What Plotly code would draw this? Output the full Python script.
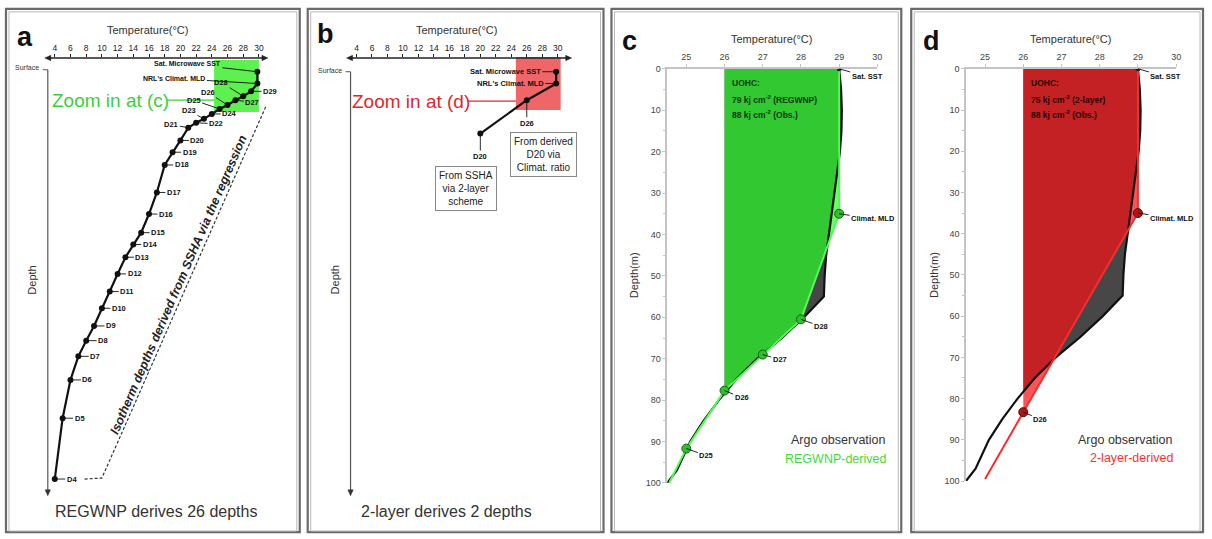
import plotly.graph_objects as go

W, H = 1212, 539
NARROW = "Liberation Sans Narrow, Arial Narrow, Liberation Sans, Arial, sans-serif"
SANS = "Liberation Sans, Arial, sans-serif"

# ---------------- data ----------------
# (a) REGWNP: depths of the 4..29 degC isotherms (schematic depth units below surface)
isotherm_temps_a = [4, 5, 6, 7, 8, 9, 10, 11, 12, 13, 14, 15, 16,
                    17, 18, 19, 20, 21, 22, 23, 24, 25, 26, 27, 28, 29]
isotherm_depths_a = [417, 355, 316, 292, 276, 261, 243, 226, 208, 191, 178, 166, 147,
                     125, 97, 84, 72, 59, 54, 50, 45, 40, 36, 31, 27, 22]
sst_temp_ab = 29.8
sst_depth_ab = 2
mld_temp_ab = 29.8
mld_depth_ab = 14
temp_ticks_ab = [4, 6, 8, 10, 12, 14, 16, 18, 20, 22, 24, 26, 28, 30]

# regression path (dashed) linking the deepest isotherm to the surface layer
regression_temps = [7.8, 10.0, 30.9]
regression_depths = [417, 416, 37]

# (b) 2-layer scheme: two derived isotherm depths
isotherm_temps_b = [26, 20]
isotherm_depths_b = [31, 65]

# (c, d) Argo observed profile (m)
argo_depth = [0, 5, 10, 15, 20, 25, 30, 35, 40, 45, 50, 55, 60, 65, 70, 75,
              80, 85, 90, 92, 95, 97, 100]
argo_temp = [29.0, 29.05, 29.07, 29.06, 29.02, 28.95, 28.88, 28.8, 28.72, 28.66,
             28.62, 28.6, 28.08, 27.5, 26.85, 26.3, 25.85, 25.45, 25.1, 25.0,
             24.85, 24.75, 24.5]

# (c) REGWNP-derived profile
regwnp_temp = [29.0, 29.0, 28.0, 27.0, 26.0, 25.0, 24.55]
regwnp_depth = [0, 35, 60.5, 69, 77.7, 91.7, 100]
regwnp_labels = ["Sat. SST", "Climat. MLD", "D28", "D27", "D26", "D25", ""]

# (d) 2-layer-derived profile
twolayer_temp = [29.0, 29.0, 26.0, 25.0]
twolayer_depth = [0, 35, 83.3, 99.5]
twolayer_labels = ["Sat. SST", "Climat. MLD", "D26", ""]

uohc_regwnp = 79
uohc_twolayer = 75
uohc_obs = 88
temp_ticks_cd = [25, 26, 27, 28, 29, 30]
ohc_threshold = 26.0


# ---------------- helpers ----------------
def px(x):
    return x / W


def py(y):
    return 1 - y / H


def warm_region(temps, depths, t0):
    """Polygon enclosed by a profile and the t0 isotherm (water warmer than t0)."""
    xs, ys = [t0], [depths[0]]
    for i, (t, d) in enumerate(zip(temps, depths)):
        if t >= t0:
            xs.append(t)
            ys.append(d)
        if i + 1 < len(temps):
            t2, d2 = temps[i + 1], depths[i + 1]
            if (t - t0) * (t2 - t0) < 0:
                f = (t0 - t) / (t2 - t)
                xs.append(t0)
                ys.append(d + f * (d2 - d))
                break
    xs.append(t0)
    ys.append(depths[0])
    return xs, ys


# schematic panels (a, b): pixel <-> temperature mapping of the top axis
def temp_range(t_left_px, scale, dom):
    return [4 + (dom[0] - t_left_px) / scale, 4 + (dom[1] - t_left_px) / scale]


DOM_A = (40, 280)
DOM_B = (340, 590)
RANGE_A = temp_range(55, 7.885, DOM_A)
RANGE_B = temp_range(358, 7.77, DOM_B)

fig = go.Figure()

# ---------------- panel a ----------------
fig.add_trace(go.Scatter(
    x=regression_temps, y=regression_depths, mode="lines",
    line=dict(color="#333", width=1.2, dash="3px,2px"),
    xaxis="x", yaxis="y", hoverinfo="skip"))

prof_a_t = [sst_temp_ab, mld_temp_ab] + isotherm_temps_a[::-1]
prof_a_d = [sst_depth_ab, mld_depth_ab] + isotherm_depths_a[::-1]
fig.add_trace(go.Scatter(
    x=prof_a_t, y=prof_a_d, mode="lines+markers",
    line=dict(color="#111", width=2.2),
    marker=dict(color="#111", size=6),
    xaxis="x", yaxis="y"))

# ---------------- panel b ----------------
prof_b_t = [sst_temp_ab, mld_temp_ab] + isotherm_temps_b
prof_b_d = [sst_depth_ab, mld_depth_ab] + isotherm_depths_b
fig.add_trace(go.Scatter(
    x=prof_b_t, y=prof_b_d, mode="lines+markers",
    line=dict(color="#111", width=2.2),
    marker=dict(color="#111", size=6),
    xaxis="x2", yaxis="y2"))

# ---------------- panels c, d ----------------
ax_fx, ax_fy = warm_region(argo_temp, argo_depth, ohc_threshold)


def zoom_panel(xa, ya, prof_t, prof_d, fill, line_col, mk_col, mk_edge):
    fig.add_trace(go.Scatter(x=ax_fx, y=ax_fy, mode="lines", fill="toself",
                             fillcolor="#474747", line=dict(width=0),
                             xaxis=xa, yaxis=ya, hoverinfo="skip"))
    fx, fy = warm_region(prof_t, prof_d, ohc_threshold)
    fig.add_trace(go.Scatter(x=fx, y=fy, mode="lines", fill="toself",
                             fillcolor=fill, line=dict(width=0),
                             xaxis=xa, yaxis=ya, hoverinfo="skip"))
    fig.add_trace(go.Scatter(x=argo_temp, y=argo_depth, mode="lines",
                             line=dict(color="#111", width=2.2),
                             xaxis=xa, yaxis=ya))
    fig.add_trace(go.Scatter(x=prof_t, y=prof_d, mode="lines",
                             line=dict(color=line_col, width=2),
                             xaxis=xa, yaxis=ya))
    fig.add_trace(go.Scatter(
        x=prof_t[1:-1], y=prof_d[1:-1], mode="markers",
        marker=dict(color=mk_col, size=9, line=dict(color=mk_edge, width=1)),
        xaxis=xa, yaxis=ya))
    fig.add_trace(go.Scatter(
        x=prof_t[:1], y=prof_d[:1], mode="markers",
        marker=dict(color="#222", size=5), xaxis=xa, yaxis=ya))


zoom_panel("x3", "y3", regwnp_temp, regwnp_depth, "rgba(40,255,40,0.7)",
           "#4dff4d", "#2fbf2f", "#1d5c1d")
zoom_panel("x4", "y4", twolayer_temp, twolayer_depth, "rgba(245,20,25,0.72)",
           "#ff2a2a", "#b01414", "#5a0505")

# ---------------- axes ----------------
sch_x = dict(side="top", showline=False, showgrid=False, zeroline=False,
             tickvals=temp_ticks_ab, ticks="outside", ticklen=3, tickcolor="#222",
             tickfont=dict(size=8.5, family=NARROW, color="#222"))
sch_y = dict(visible=False, range=[434, -12], domain=[py(500), py(54)])

zm_x = dict(side="top", showline=True, linecolor="#c4c4c4", linewidth=1.5,
            showgrid=False, zeroline=False, range=[24.5, 30], tickvals=temp_ticks_cd,
            ticks="outside", ticklen=3, tickcolor="#c4c4c4",
            tickfont=dict(size=9, family=NARROW, color="#444"))
zm_y = dict(showline=True, linecolor="#c4c4c4", linewidth=1.5, showgrid=False,
            zeroline=False, range=[100, 0], tick0=0, dtick=10, ticks="outside",
            ticklen=3, tickcolor="#c4c4c4",
            minor=dict(ticks="outside", ticklen=2, dtick=5, tickcolor="#c4c4c4"),
            tickfont=dict(size=9, family=NARROW, color="#444"))

fig.update_layout(
    xaxis=dict(**sch_x, domain=[px(DOM_A[0]), px(DOM_A[1])], range=RANGE_A, anchor="y"),
    yaxis=dict(**sch_y, anchor="x"),
    xaxis2=dict(**sch_x, domain=[px(DOM_B[0]), px(DOM_B[1])], range=RANGE_B, anchor="y2"),
    yaxis2=dict(**sch_y, anchor="x2"),
    xaxis3=dict(**zm_x, domain=[px(670), px(881)], anchor="y3"),
    yaxis3=dict(**zm_y, domain=[py(487), py(65)], anchor="x3"),
    xaxis4=dict(**zm_x, domain=[px(970), px(1181)], anchor="y4"),
    yaxis4=dict(**zm_y, domain=[py(485), py(65)], anchor="x4"),
)

# ---------------- shapes ----------------
shapes = []


def pline(x0, y0, x1, y1, color, width, dash=None):
    ln = dict(color=color, width=width)
    if dash:
        ln["dash"] = dash
    shapes.append(dict(type="line", xref="paper", yref="paper",
                       x0=px(x0), x1=px(x1), y0=py(y0), y1=py(y1), line=ln))


def arrowhead(x, y, direction, color, size=6):
    """Filled triangle whose tip sits at pixel (x, y)."""
    half = size * 0.45
    if direction == "right":
        pts = [(x, y), (x - size, y - half), (x - size, y + half)]
    elif direction == "left":
        pts = [(x, y), (x + size, y - half), (x + size, y + half)]
    else:  # down
        pts = [(x, y), (x - half, y - size), (x + half, y - size)]
    path = "M " + " L ".join(f"{px(a):.5f},{py(b):.5f}" for a, b in pts) + " Z"
    shapes.append(dict(type="path", xref="paper", yref="paper", path=path,
                       fillcolor=color, line=dict(color=color, width=0.5)))


for x0, x1 in [(6, 301), (309, 606), (614, 905), (915, 1208)]:
    shapes.append(dict(type="rect", xref="paper", yref="paper",
                       x0=px(x0), x1=px(x1), y0=py(537), y1=py(4),
                       line=dict(color="#6a6a6a", width=2.2)))
    shapes.append(dict(type="rect", xref="paper", yref="paper",
                       x0=px(x0 + 3), x1=px(x1 - 3), y0=py(536), y1=py(7),
                       line=dict(color="#b8b8b8", width=1)))

# zoom-window boxes
shapes.append(dict(type="rect", xref="paper", yref="paper", layer="below",
                   x0=px(215), x1=px(260), y0=py(109), y1=py(56),
                   fillcolor="rgba(75,238,60,0.9)", line=dict(width=0)))
shapes.append(dict(type="rect", xref="paper", yref="paper", layer="below",
                   x0=px(518), x1=px(563), y0=py(107), y1=py(53),
                   fillcolor="rgba(238,85,88,0.9)", line=dict(width=0)))
pline(168, 97, 215, 97, "#3ccf3c", 1.2)
pline(470, 98, 518, 98, "#e3262b", 1.2)

# schematic temperature axes (double-headed) and depth axes (pointing down)
for x0, x1 in [(45, 269), (348, 574)]:
    pline(x0 + 3, 54, x1 - 3, 54, "#222", 1.3)
    arrowhead(x0, 54, "left", "#222")
    arrowhead(x1, 54, "right", "#222")
for xs, ys in [(48, 66), (352, 68)]:
    pline(xs, ys, xs, 496, "#555", 1.2)
    arrowhead(xs, 500, "down", "#333")
    pline(xs - 5, ys, xs, ys, "#555", 1)
fig.update_layout(shapes=shapes)

# ---------------- annotations ----------------
ann = []


def text(t, x, y, size, color="#222", family=SANS, xanchor="center",
         yanchor="middle", angle=0, **kw):
    ann.append(dict(text=t, x=px(x), y=py(y), xref="paper", yref="paper",
                    showarrow=False, xanchor=xanchor, yanchor=yanchor,
                    textangle=angle, font=dict(size=size, color=color, family=family),
                    **kw))


def point_label(t, x, y, dx, dy, xa, ya, size=7.5):
    ann.append(dict(text=f"<b>{t}</b>", x=x, y=y, xref=xa, yref=ya, showarrow=True,
                    ax=dx, ay=dy, arrowhead=0, arrowwidth=0.9, arrowcolor="#111",
                    standoff=0, startstandoff=0,
                    font=dict(size=size, color="#111", family=NARROW)))


# panel letters
for letter, x, y in [("a", 25, 33), ("b", 327, 30), ("c", 632, 37), ("d", 935, 37)]:
    text(f"<b>{letter}</b>", x, y, 27, color="#111")

# axis titles
for x, y in [(148, 25), (458, 25), (775, 35), (1075, 35)]:
    text("Temperature(°C)", x, y, 11, color="#333")
text("Depth", 32, 280, 11, color="#333", angle=-90)
text("Depth", 336, 280, 11, color="#333", angle=-90)
text("Depth(m)", 637, 275, 11, color="#333", angle=-90)
text("Depth(m)", 938, 275, 11, color="#333", angle=-90)
text("Surface", 41, 64, 7, color="#333", family=NARROW, xanchor="right")
text("Surface", 345, 67, 7, color="#333", family=NARROW, xanchor="right")

# captions
text("REGWNP derives 26 depths", 157, 516, 16, color="#333")
text("2-layer derives 2 depths", 448, 516, 16, color="#333")

# zoom callouts
text("Zoom in at (c)", 111, 97, 19, color="#3ccf3c", family=NARROW)
text("Zoom in at (d)", 413, 98, 19, color="#e3262b", family=NARROW)

# regression note, set just left of the dashed path
text("<b><i>Isotherm depths derived from SSHA via the regression</i></b>", 179, 285,
     12.5, color="#222", angle=-66.5)

# panel a point labels
offsets_a = {21: (-17, -3), 22: (20, 1), 23: (-15, -8), 24: (18, 0), 25: (-26, -9),
             26: (-20, -13), 27: (17, 2), 28: (-22, -14), 29: (19, 0)}
for t, d in zip(isotherm_temps_a, isotherm_depths_a):
    dx, dy = offsets_a.get(t, (17, 0))
    point_label(f"D{t}", t, d, dx, dy, "x", "y")
point_label("Sat. Microwave SST", sst_temp_ab, sst_depth_ab, -70, -8, "x", "y", 7)
point_label("NRL's Climat. MLD", mld_temp_ab, mld_depth_ab, -83, -5, "x", "y", 7)

# panel b point labels
point_label("Sat. Microwave SST", sst_temp_ab, sst_depth_ab, -51, 0, "x2", "y2", 7.5)
point_label("NRL's Climat. MLD", mld_temp_ab, mld_depth_ab, -46, 0, "x2", "y2", 7.5)
for t, d in zip(isotherm_temps_b, isotherm_depths_b):
    point_label(f"D{t}", t, d, 0, 23, "x2", "y2")

# explanatory boxes in panel b
for t, x, y in [("From derived<br>D20 via<br>Climat. ratio", 546, 152),
                ("From SSHA<br>via 2-layer<br>scheme", 468, 187)]:
    text(t, x, y, 10, color="#222", bordercolor="#888", borderwidth=1,
         borderpad=3, bgcolor="white")

# panels c, d point labels
offsets_cd = {"Sat. SST": (28, 8), "Climat. MLD": (34, 5), "D28": (20, 7),
              "D27": (17, 5), "D26": (17, 7), "D25": (20, 7)}
for lbls, ts, ds, xa, ya in [(regwnp_labels, regwnp_temp, regwnp_depth, "x3", "y3"),
                             (twolayer_labels, twolayer_temp, twolayer_depth, "x4", "y4")]:
    for lb, t, d in zip(lbls, ts, ds):
        if lb:
            dx, dy = offsets_cd[lb]
            point_label(lb, t, d, dx, dy, xa, ya)

# UOHC summaries
for lines, x, col in [
        (["UOHC:", f"{uohc_regwnp} kj cm<sup>-2</sup> (REGWNP)",
          f"{uohc_obs} kj cm<sup>-2</sup> (Obs.)"], 733, "#0c3a0c"),
        (["UOHC:", f"{uohc_twolayer} kj cm<sup>-2</sup> (2-layer)",
          f"{uohc_obs} kj cm<sup>-2</sup> (Obs.)"], 1033, "#2e0202")]:
    for ln, y in zip(lines, [79, 96, 112]):
        text(f"<b>{ln}</b>", x, y, 8.5, color=col, family=NARROW, xanchor="left")

# legends
text("Argo observation", 892, 443, 12.5, color="#333", family=NARROW, xanchor="right")
text("REGWNP-derived", 892, 463, 12.5, color="#3ddc3d", family=NARROW, xanchor="right")
text("Argo observation", 1180, 443, 12.5, color="#333", family=NARROW, xanchor="right")
text("2-layer-derived", 1180, 462, 12.5, color="#ff3030", family=NARROW, xanchor="right")

fig.update_layout(annotations=ann)

fig.update_layout(
    width=W, height=H, margin=dict(l=0, r=0, t=0, b=0),
    paper_bgcolor="white", plot_bgcolor="white", showlegend=False,
    font=dict(family=SANS),
)

fig.write_html("out.html")
